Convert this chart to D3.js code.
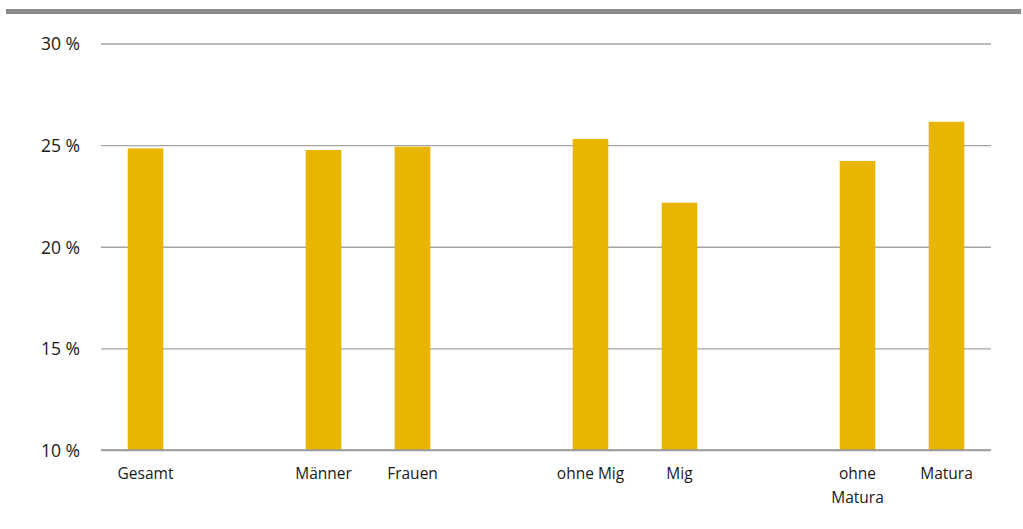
<!DOCTYPE html>
<html>
<head>
<meta charset="utf-8">
<script src="https://cdn.jsdelivr.net/npm/d3@7"></script>
<style>
  html, body { margin: 0; padding: 0; background: #fff; }
  svg { display: block; }
  .tick text { fill: #1a1a1a; font-family: "Open Sans", sans-serif; }
</style>
</head>
<body>
<svg id="chart" width="1023" height="529"></svg>
<script>
// Shares per group (in %)
const categories = ["Gesamt", "Männer", "Frauen", "ohne Mig", "Mig", "ohne Matura", "Matura"];
const values = [24.84, 24.76, 24.92, 25.30, 22.17, 24.22, 26.15];
// Bars are grouped; an empty slot separates the groups
const groups = [["Gesamt"], ["Männer", "Frauen"], ["ohne Mig", "Mig"], ["ohne Matura", "Matura"]];
const yTicks = [10, 15, 20, 25, 30];
const yDomain = [10, 30];

const svg = d3.select("#chart");
const plotLeft = 101, plotRight = 991, plotTop = 43.5, plotBottom = 450;

// Slot keys: categories plus spacer keys between groups
const slots = [];
groups.forEach((g, i) => {
  if (i > 0) slots.push("__gap" + i);
  g.forEach(c => slots.push(c));
});

const x = d3.scaleBand().domain(slots).range([plotLeft, plotRight])
  .paddingInner(0.6).paddingOuter(0.3);
const y = d3.scaleLinear().domain(yDomain).range([plotBottom, plotTop]);

// Header rule
svg.append("rect").attr("x", 6).attr("y", 9).attr("width", 1015).attr("height", 5)
  .attr("fill", "#8a8a8a");

// Y axis with gridlines
const yAxis = svg.append("g").attr("transform", `translate(${plotLeft},0)`)
  .call(d3.axisLeft(y).tickValues(yTicks).tickFormat(d => d + " %")
    .tickSize(-(plotRight - plotLeft)).tickPadding(21));
yAxis.select(".domain").remove();
yAxis.selectAll(".tick line").attr("stroke", "#a4a4a4").attr("stroke-width", 1.3);
yAxis.selectAll(".tick text").attr("font-size", 17.5).attr("dy", "0.36em");

// Bars
const data = categories.map((c, i) => ({ c, v: values[i] }));
svg.append("g").selectAll("rect").data(data).join("rect")
  .attr("x", d => x(d.c))
  .attr("width", x.bandwidth())
  .attr("y", d => y(d.v))
  .attr("height", d => y(yDomain[0]) - y(d.v))
  .attr("fill", "#e8b600");

// Baseline drawn above the bars
svg.append("line").attr("x1", plotLeft).attr("x2", plotRight)
  .attr("y1", y(yDomain[0])).attr("y2", y(yDomain[0]))
  .attr("stroke", "#999").attr("stroke-width", 1.3);

// Category labels
const xAxis = svg.append("g").attr("transform", `translate(0,${plotBottom})`)
  .call(d3.axisBottom(x).tickFormat(d => d.startsWith("__gap") ? "" : d)
    .tickSize(0).tickPadding(18));
xAxis.select(".domain").remove();
xAxis.selectAll(".tick text").attr("font-size", 15.5);

// Wrap labels that are wider than the slot
xAxis.selectAll(".tick text").each(function (d) {
  const t = d3.select(this);
  if (this.getComputedTextLength() > x.step() * 0.9) {
    const words = t.text().split(" ");
    t.text(null);
    words.forEach((w, i) => {
      t.append("tspan").attr("x", 0).attr("dy", i === 0 ? "0.71em" : "1.55em").text(w);
    });
  }
});
</script>
</body>
</html>
